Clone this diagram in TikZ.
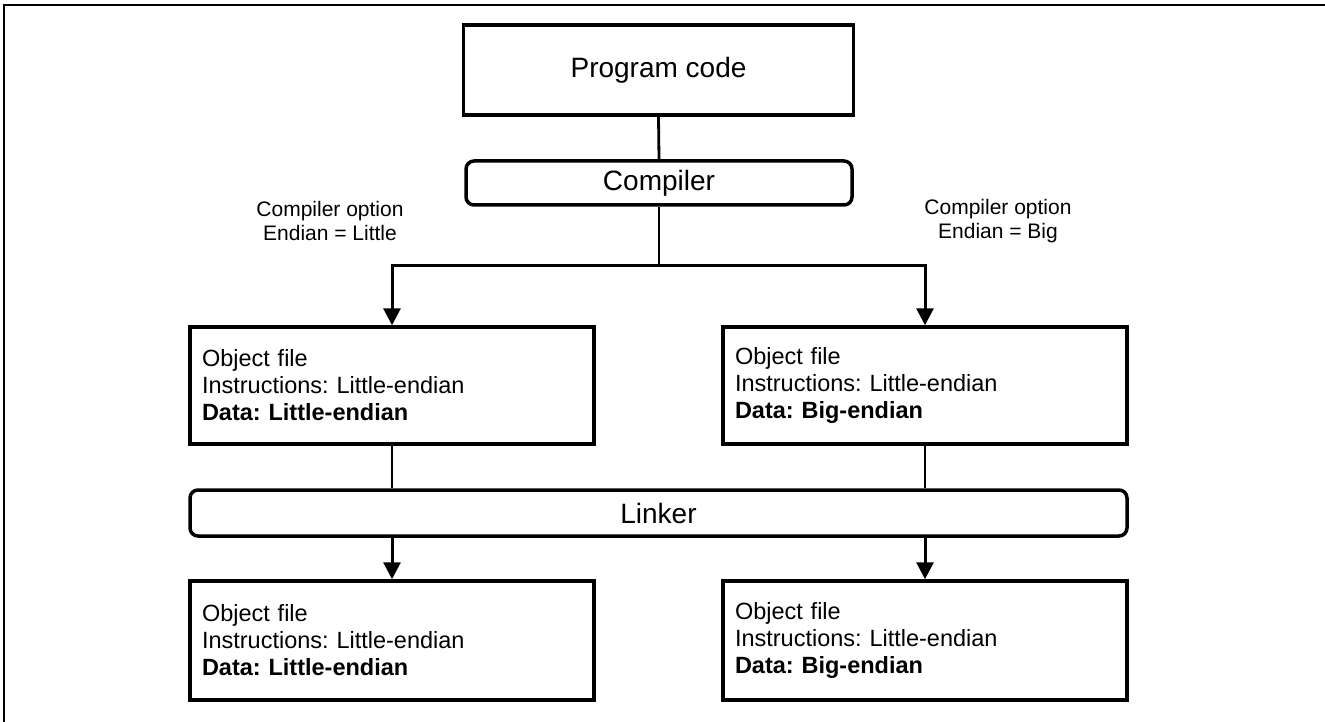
\documentclass[tikz,border=0pt]{standalone}
\usepackage{fontspec}
\setmainfont{Liberation Sans}
\usetikzlibrary{arrows.meta}
\frenchspacing
\begin{document}
\begin{tikzpicture}[x=1pt,y=-1pt,
  box/.style={draw,line width=3.5pt,rectangle,inner sep=0pt},
  rbox/.style={draw,line width=3.5pt,rectangle,rounded corners=8pt,inner sep=0pt},
  objbox/.style={draw,line width=3.5pt,rectangle,inner xsep=12pt,inner ysep=0pt,
    minimum width=404pt,text width=380pt,align=left,
    font=\fontsize{23.5}{27}\selectfont},
  conn/.style={line width=2.8pt},
  arr/.style={line width=3pt,-{Triangle[length=17pt,width=17pt]}},
  lbl/.style={align=center,font=\fontsize{21}{24}\selectfont,inner sep=0pt},
  big/.style={font=\fontsize{28}{32}\selectfont}
]
\useasboundingbox (0,0) rectangle (1325,722);
\draw[line width=2.2pt] (4,722) -- (4,5) -- (1325,5);

\node[box,big,minimum width=390pt,minimum height=90pt] (prog) at (658.5,70) {Program code};
\node[rbox,big,minimum width=386pt,minimum height=44pt] (comp) at (659,183) {Compiler};

\node[objbox,minimum height=117pt] (lobj) at (392,385.5) {Object file\\Instructions: Little-endian\\\textbf{Data: Little-endian}};
\node[objbox,minimum height=117pt] (robj) at (925,385.5) {Object file\\Instructions: Little-endian\\\textbf{Data: Big-endian}};

\node[rbox,big,minimum width=937pt,minimum height=46pt] (link) at (658.5,513) {Linker};

\node[objbox,minimum height=119pt] (lout) at (392,640.5) {Object file\\Instructions: Little-endian\\\textbf{Data: Little-endian}};
\node[objbox,minimum height=119pt] (rout) at (925,640.5) {Object file\\Instructions: Little-endian\\\textbf{Data: Big-endian}};

\node[lbl] (lopt) at (330,221) {Compiler option\\Endian = Little};
\node[lbl] (ropt) at (998,221) {Compiler option\\Endian = Big};

\coordinate (jn) at (659,265);
\draw[conn] (prog.south) -- (comp.north);
\draw[conn] (comp.south) -- (jn);
\draw[arr] (jn) -| (lobj.north);
\draw[arr] (jn) -| (robj.north);
\draw[conn] (lobj.south) -- (lobj.south |- link.north);
\draw[conn] (robj.south) -- (robj.south |- link.north);
\draw[arr] (lobj.south |- link.south) -- (lout.north);
\draw[arr] (robj.south |- link.south) -- (rout.north);
\end{tikzpicture}
\end{document}
